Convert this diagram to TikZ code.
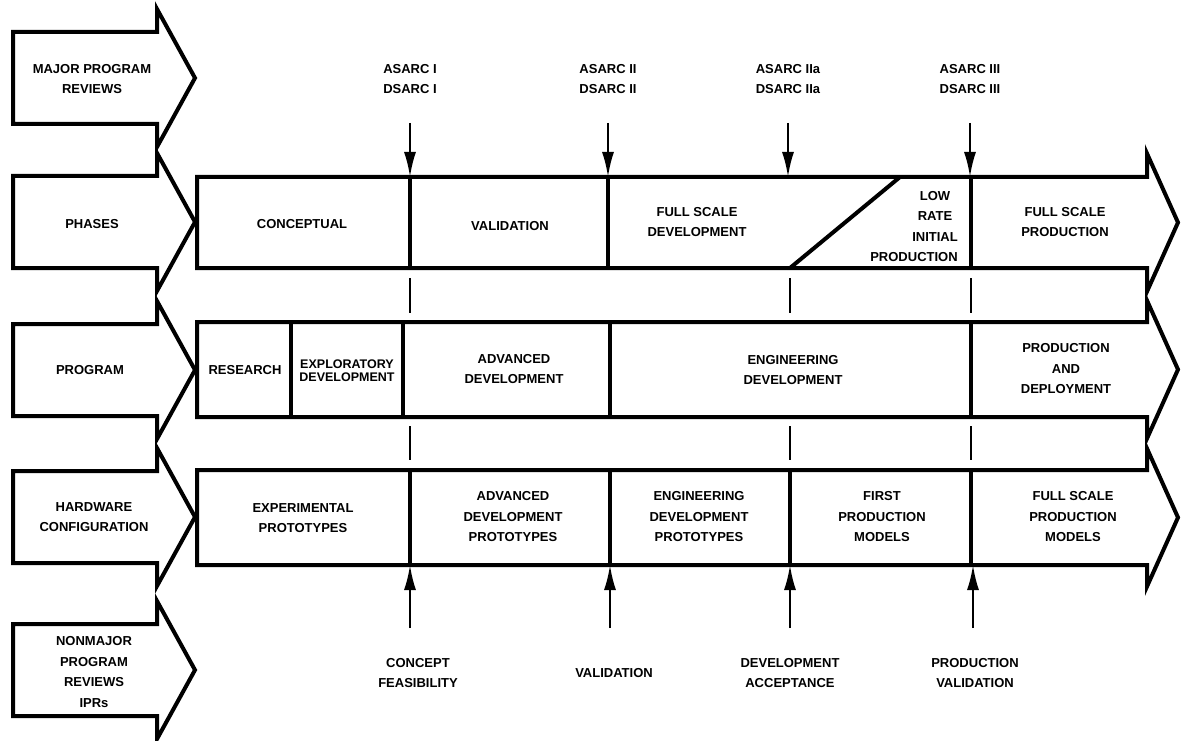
\documentclass[tikz,border=0pt]{standalone}
\usepackage{fontspec}
\setmainfont{Liberation Sans}
\usetikzlibrary{arrows.meta,calc}

\begin{document}
\begin{tikzpicture}[x=1pt, y=-1pt,
  outline/.style={line width=4pt, line join=miter},
  divider/.style={line width=3.5pt},
  gap/.style={line width=2.2pt},
  review/.style={-{Latex[length=25pt,width=12pt]}, line width=2.2pt},
  lbl/.style={font=\fontsize{13}{20.5}\selectfont\bfseries, align=center, inner sep=0pt},
  tight/.style={lbl, font=\fontsize{12.5}{13}\selectfont\bfseries}
]
\useasboundingbox (0,0) rectangle (1181,741);
\def\bh{46}   % half height of a tag body
\def\hh{69}   % half height of an arrow head
% tag arrows on the left
\foreach \yc in {78,222,370,517,670}
  \draw[outline] (13,\yc-\bh) -- (157,\yc-\bh) -- (157,\yc-\hh) -- (195,\yc)
    -- (157,\yc+\hh) -- (157,\yc+\bh) -- (13,\yc+\bh) -- cycle;
\node[lbl] (tmajor) at (92,79) {MAJOR PROGRAM\\REVIEWS};
\node[lbl] (tphase) at (92,224) {PHASES};
\node[lbl] (tprog) at (90,370) {PROGRAM};
\node[lbl] (thard) at (94,517) {HARDWARE\\CONFIGURATION};
\node[lbl] (tipr) at (94,672) {NONMAJOR\\PROGRAM\\REVIEWS\\IPRs};

% long bars
\foreach \t/\b in {177/268, 322/417, 470/565}
  \draw[outline] (197,\t) -- (1147,\t) -- (1147,{(\t+\b)/2-\hh}) -- (1178,{(\t+\b)/2})
    -- (1147,{(\t+\b)/2+\hh}) -- (1147,\b) -- (197,\b) -- cycle;

% phases
\draw[divider] (410,177) -- (410,268);
\draw[divider] (608,177) -- (608,268);
\draw[divider] (971,177) -- (971,268);
\draw[outline] (790,268) -- (900,177);
\node[lbl] (conc) at (302,224) {CONCEPTUAL};
\node[lbl] (valid) at (510,226) {VALIDATION};
\node[lbl] (fsd) at (697,222) {FULL SCALE\\DEVELOPMENT};
\node[lbl] (lrip) at (935,216) {LOW\\RATE\\INITIAL};
\node[lbl] (lripb) at (914,257) {PRODUCTION};
\node[lbl] (fsp) at (1065,222) {FULL SCALE\\PRODUCTION};

% program
\draw[divider] (291,322) -- (291,417);
\draw[divider] (403,322) -- (403,417);
\draw[divider] (610,322) -- (610,417);
\draw[divider] (971,322) -- (971,417);
\node[lbl] (res) at (245,370) {RESEARCH};
\node[tight] (expl) at (347,371) {EXPLORATORY\\DEVELOPMENT};
\node[lbl] (advd) at (514,369) {ADVANCED\\DEVELOPMENT};
\node[lbl] (engd) at (793,370) {ENGINEERING\\DEVELOPMENT};
\node[lbl] (prod) at (1066,369) {PRODUCTION\\AND\\DEPLOYMENT};

% hardware
\foreach \x in {410,610,790,971}
  \draw[divider] (\x,470) -- (\x,565);
\node[lbl] (exper) at (303,518) {EXPERIMENTAL\\PROTOTYPES};
\node[lbl] (adp) at (513,517) {ADVANCED\\DEVELOPMENT\\PROTOTYPES};
\node[lbl] (edp) at (699,517) {ENGINEERING\\DEVELOPMENT\\PROTOTYPES};
\node[lbl] (fpm) at (882,517) {FIRST\\PRODUCTION\\MODELS};
\node[lbl] (fspm) at (1073,517) {FULL SCALE\\PRODUCTION\\MODELS};

% broken lines between the bars
\foreach \x in {410,790,971} {
  \draw[gap] (\x,278) -- (\x,313);
  \draw[gap] (\x,426) -- (\x,460);
}

% major reviews
\foreach \x/\n/\r in {410/1/I, 608/2/II, 788/3/IIa, 970/4/III} {
  \node[lbl] (mr\n) at (\x,79) {ASARC \r\\DSARC \r};
  \coordinate (mrs\n) at (\x,123);
  \coordinate (mre\n) at (\x,177);
  \draw[review] (mrs\n) -- (mre\n);
}

% nonmajor reviews
\foreach \x/\n/\dx/\txt in {410/1/8/{CONCEPT\\FEASIBILITY}, 610/2/4/{VALIDATION},
    790/3/0/{DEVELOPMENT\\ACCEPTANCE}, 973/4/2/{PRODUCTION\\VALIDATION}} {
  \coordinate (nrs\n) at (\x,628);
  \coordinate (nre\n) at (\x,565);
  \draw[review] (nrs\n) -- (nre\n);
  \node[lbl] (nr\n) at (\x+\dx,673) {\txt};
}
\end{tikzpicture}
\end{document}
